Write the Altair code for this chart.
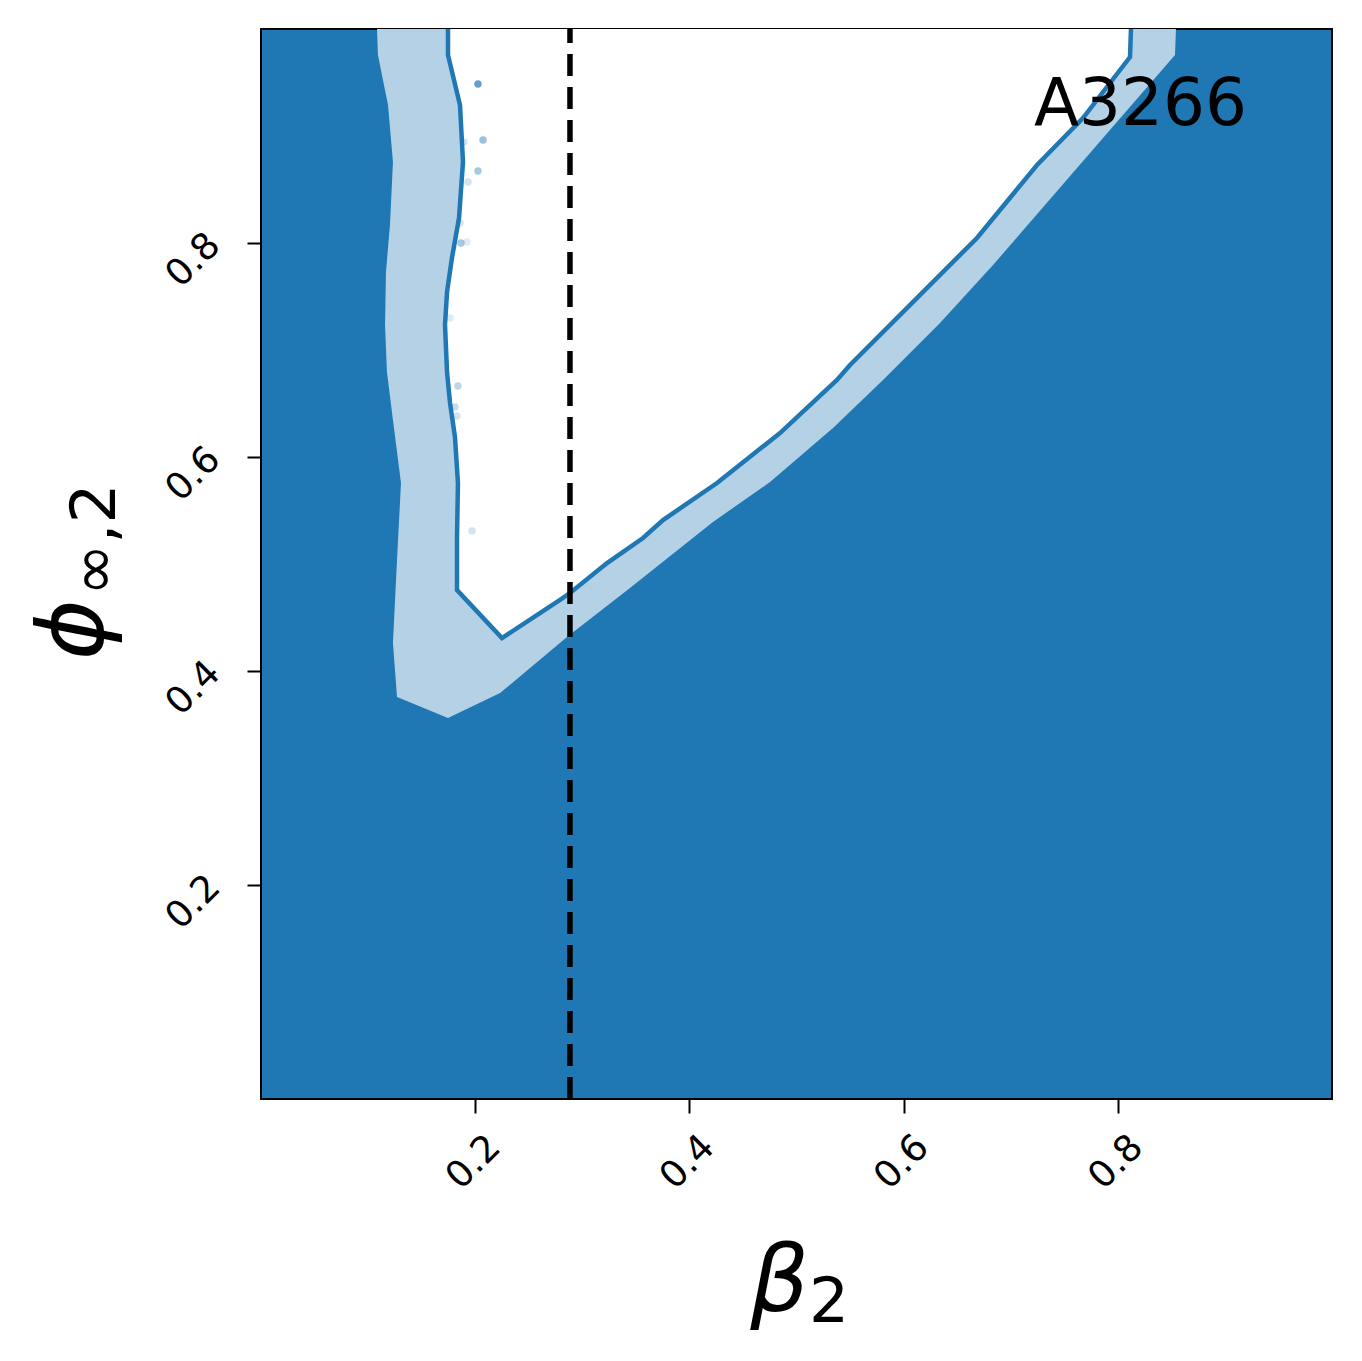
import altair as alt
import pandas as pd

# ---- data ----
# outer (light blue) contour: left edge top->bottom, then right edge bottom->top
outer_x = [0.1083, 0.1092, 0.1186, 0.1232, 0.1204, 0.1167, 0.1158, 0.1176, 0.1232,
           0.1307, 0.1270, 0.1232, 0.1270, 0.1746,
           0.2232, 0.2857, 0.3445, 0.4220, 0.4753, 0.5341, 0.5808, 0.6340, 0.6835,
           0.7862, 0.8534, 0.8543]
outer_y = [1.0, 0.9757, 0.9290, 0.8757, 0.8168, 0.7729, 0.7234, 0.6794, 0.6346,
           0.5757, 0.5037, 0.4262, 0.3757, 0.3561,
           0.3794, 0.4318, 0.4776, 0.5393, 0.5766, 0.6271, 0.6720, 0.7252, 0.7794,
           0.8981, 0.9757, 1.0]

# inner (white) contour with its outline
inner_x = [0.1746, 0.1746, 0.1858, 0.1886, 0.1849, 0.1783, 0.1737, 0.1718, 0.1737,
           0.1765, 0.1811, 0.1839, 0.1830, 0.1830, 0.2250, 0.2792, 0.2885, 0.3231,
           0.3567, 0.3754, 0.4258, 0.4846, 0.5378, 0.5500, 0.6685, 0.7246, 0.7675,
           0.8114, 0.8123]
inner_y = [1.0, 0.9757, 0.9290, 0.8757, 0.8234, 0.7860, 0.7542, 0.7234, 0.6794,
           0.6505, 0.6187, 0.5757, 0.5252, 0.4757, 0.4308, 0.4664, 0.4729, 0.5009,
           0.5243, 0.5411, 0.5757, 0.6224, 0.6720, 0.6860, 0.8047, 0.8729, 0.9168,
           0.9738, 1.0]

# scattered samples
pts_x = [0.2026, 0.2073, 0.2026, 0.1933, 0.1895, 0.1858, 0.1867, 0.1923, 0.1765,
         0.1839, 0.1811, 0.1830, 0.1970]
pts_y = [0.9486, 0.8963, 0.8673, 0.8570, 0.8944, 0.8187, 0.8000, 0.8009, 0.7299,
         0.6664, 0.6467, 0.6383, 0.5308]
pts_a = [0.7, 0.45, 0.4, 0.2, 0.2, 0.2, 0.4, 0.15, 0.15, 0.3, 0.25, 0.2, 0.2]

truth_x = [0.2885]
ticks = [0.2, 0.4, 0.6, 0.8]
label_text = ["A3266"]

DARK = "#1f77b4"
LIGHT = "#b4d1e6"

outer_df = pd.DataFrame({"x": outer_x, "y": outer_y, "i": range(len(outer_x))})
inner_df = pd.DataFrame({"x": inner_x, "y": inner_y, "i": range(len(inner_x))})
pts_df = pd.DataFrame({"x": pts_x, "y": pts_y, "a": pts_a})
rule_df = pd.DataFrame({"x": truth_x, "y": [0.0], "y2": [1.0]})

sx = alt.Scale(domain=[0, 1], nice=False, zero=False)
sy = alt.Scale(domain=[0, 1], nice=False, zero=False)

xaxis = alt.Axis(values=ticks, title=None, grid=False, domain=False,
                 labelAngle=315, labelAlign="center", labelBaseline="middle",
                 labelPadding=49, labelFontSize=37, labelFont="DejaVu Sans",
                 labelColor="black", tickColor="black", tickSize=14, tickWidth=2,
                 labelOffset=-2)
yaxis = alt.Axis(values=ticks, title=None, grid=False, domain=False,
                 labelAngle=315, labelAlign="center", labelBaseline="middle",
                 labelPadding=54, labelFontSize=37, labelFont="DejaVu Sans",
                 labelColor="black", tickColor="black", tickSize=14, tickWidth=2,
                 labelOffset=17)

X = alt.X("x:Q", scale=sx, axis=xaxis)
Y = alt.Y("y:Q", scale=sy, axis=yaxis)

outer = alt.Chart(outer_df).mark_line(
    fill=LIGHT, strokeOpacity=0, interpolate="linear"
).encode(x=X, y=Y, order=alt.Order("i:Q"))

inner_fill = alt.Chart(inner_df).mark_line(
    fill="white", strokeOpacity=0
).encode(x=X, y=Y, order=alt.Order("i:Q"))

points = alt.Chart(pts_df).mark_circle(color=DARK, size=55).encode(
    x=X, y=Y, opacity=alt.Opacity("a:Q", scale=None, legend=None)
)

inner_line = alt.Chart(inner_df).mark_line(
    color=DARK, strokeWidth=4.5
).encode(x=X, y=Y, order=alt.Order("i:Q"))

rule = alt.Chart(rule_df).mark_rule(
    color="black", strokeWidth=5.5, strokeDash=[22, 11]
).encode(x=X, y=Y, y2="y2:Q")

name = alt.Chart(pd.DataFrame({"t": label_text})).mark_text(
    font="DejaVu Sans", fontSize=66, align="right", baseline="alphabetic", color="black"
).encode(text="t:N", x=alt.value(986), y=alt.value(96))

xt1 = alt.Chart(pd.DataFrame({"t": ["β"]})).mark_text(
    font="DejaVu Sans", fontStyle="italic", fontSize=92, align="right",
    baseline="alphabetic", color="black"
).encode(text="t:N", x=alt.value(548), y=alt.value(1282))
xt2 = alt.Chart(pd.DataFrame({"t": ["2"]})).mark_text(
    font="DejaVu Sans", fontSize=63, align="left", baseline="alphabetic", color="black"
).encode(text="t:N", x=alt.value(548), y=alt.value(1293))

yt1 = alt.Chart(pd.DataFrame({"t": ["ϕ"]})).mark_text(
    font="DejaVu Sans", fontStyle="italic", fontSize=92, align="left",
    baseline="alphabetic", angle=270, color="black"
).encode(text="t:N", x=alt.value(-158), y=alt.value(631))
yt2 = alt.Chart(pd.DataFrame({"t": ["∞,2"]})).mark_text(
    font="DejaVu Sans", fontSize=63, align="left",
    baseline="alphabetic", angle=270, color="black"
).encode(text="t:N", x=alt.value(-146), y=alt.value(567))

chart = alt.layer(
    outer, inner_fill, points, inner_line, rule, name, xt1, xt2, yt1, yt2
).properties(
    width=1071, height=1070,
    autosize=alt.AutoSizeParams(type="none"),
    padding={"left": 253, "top": 21, "right": 22, "bottom": 254},
    background="white",
).configure_view(
    fill=DARK, stroke="black", strokeWidth=2
)

chart.save("out.html", embed_options={"renderer": "svg", "actions": False})
